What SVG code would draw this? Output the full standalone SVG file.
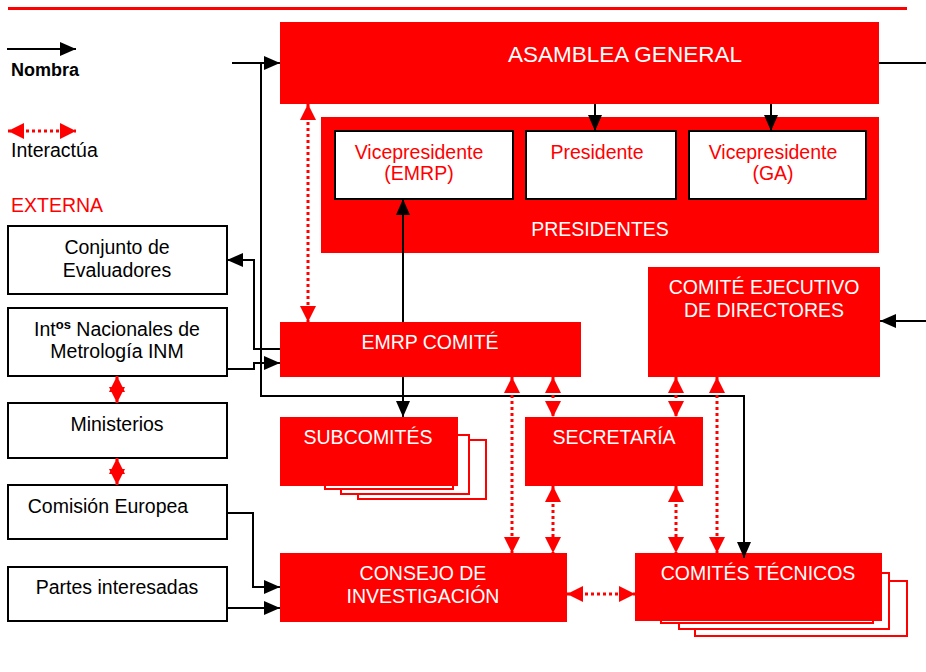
<svg xmlns="http://www.w3.org/2000/svg" width="926" height="672" viewBox="0 0 926 672">
<style>
text{font-family:"Liberation Sans",Arial,Helvetica,sans-serif;font-size:19.5px;text-anchor:middle}
.w{fill:#fff}.r{fill:#ff0000}.k{fill:#000}
.red{fill:#ff0000;stroke:none}
.box{fill:#fff;stroke:#000;stroke-width:2}
.page{fill:#fff;stroke:#ff0000;stroke-width:2}
.ln{fill:none;stroke:#000;stroke-width:2}
.dl{fill:none;stroke:#ff0000;stroke-width:3;stroke-dasharray:3 3}
</style>
<defs>
<marker id="ab" markerUnits="userSpaceOnUse" markerWidth="16" markerHeight="14" refX="16" refY="7" orient="auto"><path d="M0,0L16,7L0,14z" fill="#000"/></marker>
<marker id="ar" markerUnits="userSpaceOnUse" markerWidth="16" markerHeight="16" refX="16" refY="8" orient="auto-start-reverse"><path d="M0,0L16,8L0,16z" fill="#ff0000"/></marker>
</defs>
<rect x="8" y="7" width="899" height="3" fill="#ff0000"/>
<g id="legend">
<line x1="7" y1="49" x2="76" y2="49" class="ln" marker-end="url(#ab)"/>
<text x="11" y="76" style="text-anchor:start;font-weight:bold;font-size:18px">Nombra</text>
<line x1="8" y1="131" x2="76" y2="131" class="dl" marker-start="url(#ar)" marker-end="url(#ar)"/>
<text x="11" y="157" style="text-anchor:start">Interactúa</text>
<text x="11" y="212" class="r" style="text-anchor:start">EXTERNA</text>
</g>
<g id="asamblea"><rect x="280" y="22" width="599" height="82" class="red"/><text x="625" y="62" class="w" style="font-size:22.5px">ASAMBLEA GENERAL</text></g>
<g id="presidentes"><rect x="321" y="117" width="558" height="136" class="red"/><text x="600" y="236" class="w">PRESIDENTES</text></g>
<g id="vp-emrp"><rect x="335" y="131" width="178" height="68" class="box"/><text x="419" y="159" class="r">Vicepresidente</text><text x="419" y="180" class="r">(EMRP)</text></g>
<g id="presidente"><rect x="526" y="131" width="150" height="68" class="box"/><text x="597" y="159" class="r">Presidente</text></g>
<g id="vp-ga"><rect x="689" y="131" width="177" height="68" class="box"/><text x="773" y="159" class="r">Vicepresidente</text><text x="773" y="180" class="r">(GA)</text></g>
<g id="comite-ejecutivo"><rect x="648" y="267" width="232" height="110" class="red"/><text x="764" y="294" class="w">COMITÉ EJECUTIVO</text><text x="764" y="317" class="w">DE DIRECTORES</text></g>
<g id="emrp-comite"><rect x="280" y="322" width="301" height="55" class="red"/><text x="430" y="349" class="w">EMRP COMITÉ</text></g>
<g id="subcomites">
<rect x="358" y="440" width="128" height="59" class="page"/>
<rect x="341" y="435" width="128" height="59" class="page"/>
<rect x="325" y="430" width="128" height="59" class="page"/>
<rect x="280" y="417" width="178" height="69" class="red"/><text x="368" y="444" class="w">SUBCOMITÉS</text></g>
<g id="secretaria"><rect x="525" y="417" width="178" height="69" class="red"/><text x="614" y="444" class="w">SECRETARÍA</text></g>
<g id="consejo"><rect x="280" y="553" width="287" height="69" class="red"/><text x="423" y="580" class="w">CONSEJO DE</text><text x="423" y="603" class="w">INVESTIGACIÓN</text></g>
<g id="comites-tecnicos">
<rect x="695" y="581" width="212" height="55" class="page"/>
<rect x="679" y="573" width="210" height="56" class="page"/>
<rect x="661" y="563" width="212" height="60" class="page"/>
<rect x="635" y="553" width="247" height="68" class="red"/><text x="758" y="580" class="w">COMITÉS TÉCNICOS</text></g>
<g id="conjunto"><rect x="8" y="226" width="219" height="68" class="box"/><text x="117" y="254" class="k">Conjunto de</text><text x="117" y="277" class="k">Evaluadores</text></g>
<g id="inm"><rect x="8" y="308" width="219" height="68" class="box"/><text x="117" y="336" class="k">Int<tspan baseline-shift="super" style="font-size:13px;font-weight:bold">os</tspan> Nacionales de</text><text x="117" y="358" class="k">Metrología INM</text></g>
<g id="ministerios"><rect x="8" y="403" width="219" height="55" class="box"/><text x="117" y="431" class="k">Ministerios</text></g>
<g id="comision"><rect x="8" y="485" width="219" height="54" class="box"/><text x="108" y="513" class="k">Comisión Europea</text></g>
<g id="partes"><rect x="8" y="567" width="219" height="54" class="box"/><text x="117" y="594" class="k">Partes interesadas</text></g>
<g id="connectors">
<line x1="232" y1="63" x2="280" y2="63" class="ln" marker-end="url(#ab)"/>
<polyline points="261,63 261,396 744,396 744,558" class="ln" marker-end="url(#ab)"/>
<line x1="879" y1="63" x2="926" y2="63" class="ln"/>
<line x1="595" y1="104" x2="595" y2="131" class="ln" marker-end="url(#ab)"/>
<line x1="771" y1="104" x2="771" y2="131" class="ln" marker-end="url(#ab)"/>
<line x1="403" y1="322" x2="403" y2="199" class="ln" marker-end="url(#ab)"/>
<line x1="403" y1="377" x2="403" y2="417" class="ln" marker-end="url(#ab)"/>
<line x1="926" y1="321" x2="880" y2="321" class="ln" marker-end="url(#ab)"/>
<polyline points="280,349 254,349 254,260 227,260" class="ln" marker-end="url(#ab)"/>
<polyline points="227,369 254,369 254,363 280,363" class="ln" marker-end="url(#ab)"/>
<polyline points="227,513 253,513 253,587 280,587" class="ln" marker-end="url(#ab)"/>
<line x1="227" y1="608" x2="280" y2="608" class="ln" marker-end="url(#ab)"/>
<line x1="308" y1="104" x2="308" y2="322" class="dl" marker-start="url(#ar)" marker-end="url(#ar)"/>
<line x1="117" y1="376" x2="117" y2="403" class="dl" marker-start="url(#ar)" marker-end="url(#ar)"/>
<line x1="117" y1="458" x2="117" y2="485" class="dl" marker-start="url(#ar)" marker-end="url(#ar)"/>
<line x1="512" y1="377" x2="512" y2="553" class="dl" marker-start="url(#ar)" marker-end="url(#ar)"/>
<line x1="553" y1="377" x2="553" y2="417" class="dl" marker-start="url(#ar)" marker-end="url(#ar)"/>
<line x1="676" y1="377" x2="676" y2="417" class="dl" marker-start="url(#ar)" marker-end="url(#ar)"/>
<line x1="717" y1="377" x2="717" y2="553" class="dl" marker-start="url(#ar)" marker-end="url(#ar)"/>
<line x1="553" y1="486" x2="553" y2="553" class="dl" marker-start="url(#ar)" marker-end="url(#ar)"/>
<line x1="676" y1="486" x2="676" y2="553" class="dl" marker-start="url(#ar)" marker-end="url(#ar)"/>
<line x1="567" y1="594" x2="635" y2="594" class="dl" marker-start="url(#ar)" marker-end="url(#ar)"/>
</g>
</svg>
